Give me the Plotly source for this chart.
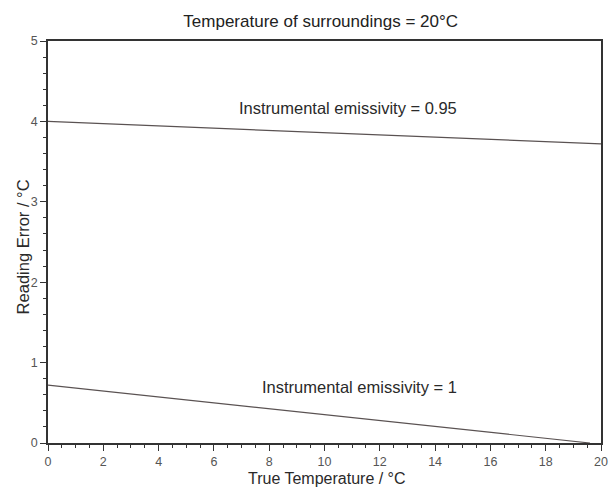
import plotly.graph_objects as go

# Data
true_temp_095 = [0, 20]
error_095 = [4.0, 3.72]
true_temp_1 = [0, 19.6]
error_1 = [0.72, 0.0]

title_text = "Temperature of surroundings = 20°C"
x_title = "True Temperature / °C"
y_title = "Reading Error / °C"
label_095 = "Instrumental emissivity = 0.95"
label_1 = "Instrumental emissivity = 1"

FONT = "Liberation Sans, Arial, sans-serif"

fig = go.Figure()
fig.add_trace(go.Scatter(x=true_temp_095, y=error_095, mode="lines",
                         line=dict(color="#5a5252", width=1.2), showlegend=False))
fig.add_trace(go.Scatter(x=true_temp_1, y=error_1, mode="lines",
                         line=dict(color="#5a5252", width=1.2), showlegend=False))

fig.add_annotation(x=10.85, y=4.17, text=label_095, showarrow=False,
                   font=dict(family=FONT, size=16.5, color="#2a2a2a"))
fig.add_annotation(x=11.28, y=0.70, text=label_1, showarrow=False,
                   font=dict(family=FONT, size=16.5, color="#2a2a2a"))

# Axis titles placed as paper annotations
fig.add_annotation(xref="paper", yref="paper", x=0.505, y=-0.1135, text=x_title,
                   showarrow=False, xanchor="center", yanchor="bottom",
                   font=dict(family=FONT, size=16, color="#2a2a2a"))
fig.add_annotation(xref="paper", yref="paper", x=-0.046, y=0.488, text=y_title,
                   showarrow=False, xanchor="center", yanchor="middle", textangle=-90,
                   font=dict(family=FONT, size=16.5, color="#2a2a2a"))

fig.update_layout(
    width=612, height=490,
    margin=dict(l=48, r=11, t=41, b=47),
    paper_bgcolor="white", plot_bgcolor="white",
    font=dict(family=FONT, size=12, color="#333"),
    title=dict(text=title_text, x=0.524, xanchor="center", y=0.957, yanchor="middle",
               font=dict(family=FONT, size=17, color="#222")),
    xaxis=dict(range=[0, 20], dtick=2, tick0=0, showgrid=False, zeroline=False,
               automargin=False,
               showline=True, linecolor="#333", linewidth=1.5, mirror=True,
               ticks="outside", ticklen=6, tickcolor="#333", tickwidth=1,
               minor=dict(dtick=0.5, ticks="outside", ticklen=3, tickcolor="#333"),
               tickfont=dict(family=FONT, size=12.5, color="#555")),
    yaxis=dict(range=[0, 5], dtick=1, tick0=0, showgrid=False, zeroline=False,
               automargin=False,
               showline=True, linecolor="#333", linewidth=1.5, mirror=True,
               ticks="outside", ticklen=6, tickcolor="#333", tickwidth=1,
               minor=dict(dtick=0.2, ticks="outside", ticklen=3, tickcolor="#333"),
               tickfont=dict(family=FONT, size=12.5, color="#555")),
)

fig.write_html("out.html")
